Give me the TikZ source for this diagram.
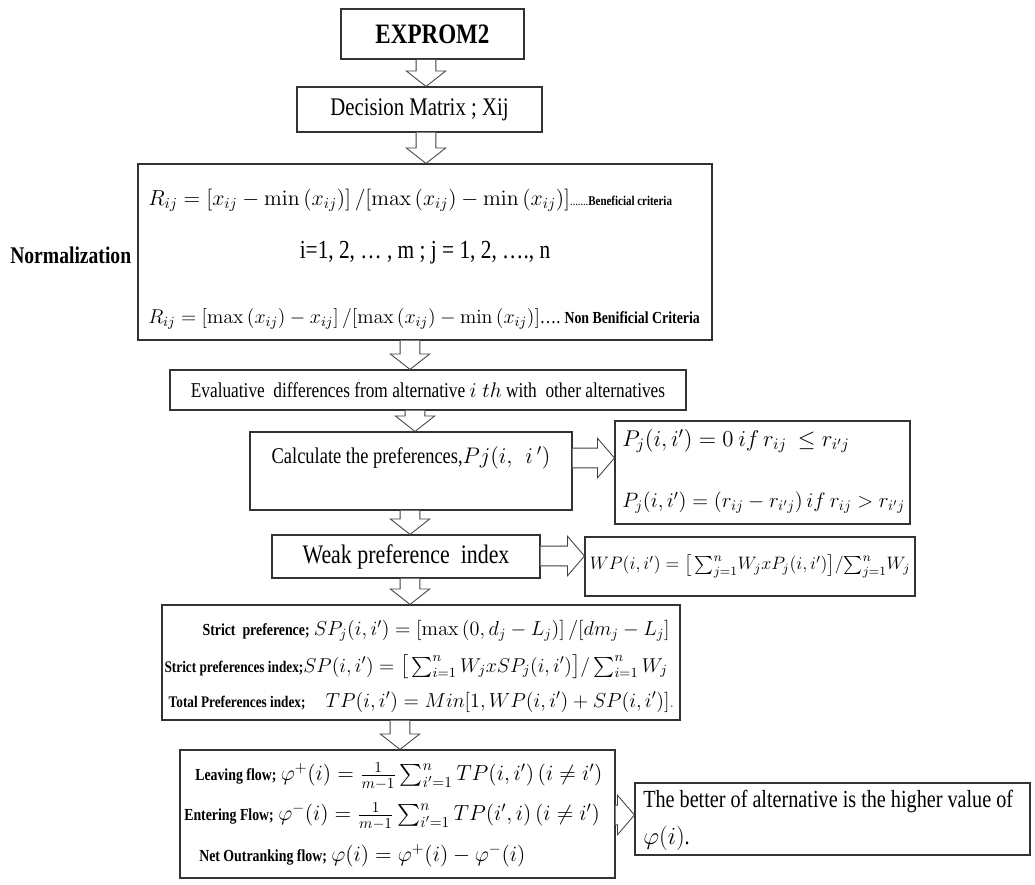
\documentclass[tikz,border=0pt]{standalone}
\usepackage{fix-cm}
\usepackage{amsmath,amssymb}
\usepackage[no-math]{fontspec}
\setmainfont{Liberation Serif}[FakeStretch=0.82]
\usetikzlibrary{calc}
\newcommand{\fsize}[1]{\fontsize{#1}{#1}\selectfont}
% hollow block arrows between boxes
\newcommand{\blockdown}[3]{\draw[blockarrow] let \p1=(#1,0 |- #2.south), \p2=(#1,0 |- #3.north) in
    (\x1-7pt,\y1) -- (\x1-7pt,\y2+11pt) -- (\x1-14pt,\y2+11pt) -- (\x1,\y2)
    -- (\x1+14pt,\y2+11pt) -- (\x1+7pt,\y2+11pt) -- (\x1+7pt,\y1);}
\newcommand{\blockright}[3]{\draw[blockarrow] let \p1=(#2.east |- 0,#1), \p2=(#3.west |- 0,#1) in
    (\x1,\y1+7pt) -- (\x2-12pt,\y1+7pt) -- (\x2-12pt,\y1+14pt) -- (\x2,\y1)
    -- (\x2-12pt,\y1-14pt) -- (\x2-12pt,\y1-7pt) -- (\x1,\y1-7pt);}

\begin{document}
\begin{tikzpicture}[x=0.025cm, y=-0.025cm,
    box/.style={draw=black!80, line width=0.8pt, inner sep=0pt},
    blockarrow/.style={draw=black!75, fill=white, line width=0.6pt},
    line/.style={inner sep=0pt, font=\fsize{15.5}}]
    \def\px{0.025cm}
    \useasboundingbox (0,0) rectangle (1035,884);

    % Draw boxes
    \node[box, line width=1.4pt, minimum width=183*\px, minimum height=50*\px] (exprom) at (432.5,34) {};
    \node[box, minimum width=245*\px, minimum height=45*\px] (dm) at (419.5,109.5) {};
    \node[box, minimum width=574*\px, minimum height=176*\px] (norm) at (425,252) {};
    \node[box, minimum width=516*\px, minimum height=40*\px] (eval) at (428,390) {};
    \node[box, minimum width=322*\px, minimum height=78*\px] (calc) at (411,471) {};
    \node[box, minimum width=295*\px, minimum height=103*\px] (pj) at (762.5,472.5) {};
    \node[box, minimum width=268*\px, minimum height=43*\px] (weak) at (406,556.5) {};
    \node[box, minimum width=330*\px, minimum height=59*\px] (wp) at (750,566.5) {};
    \node[box, minimum width=518*\px, minimum height=115*\px] (strict) at (421,662.5) {};
    \node[box, minimum width=435*\px, minimum height=128*\px] (flow) at (397.5,814) {};
    \node[box, minimum width=395*\px, minimum height=72*\px] (final) at (832.5,819) {};

    % Draw arrows
    \blockdown{426}{exprom}{dm}
    \blockdown{426}{dm}{norm}
    \blockdown{410}{norm}{eval}
    \blockdown{415}{eval}{calc}
    \blockdown{410}{calc}{weak}
    \blockdown{410}{weak}{strict}
    \blockdown{400}{strict}{flow}
    \blockright{458}{calc}{pj}
    \blockright{556}{weak}{wp}
    \blockright{815}{flow}{final}

    % Texts
    \node[font=\fsize{20}\bfseries] (exprom-t) at (exprom) {EXPROM2};
    \node[font=\fsize{18}] (dm-t) at (dm) {Decision Matrix ; Xij};
    \node[font=\fsize{17}\bfseries, anchor=west, inner sep=0pt] (norm-l) at (10,255) {Normalization};

    \node[line, anchor=west] (norm-a) at (148,200)
        {$R_{ij} = \left[x_{ij} - \min\left(x_{ij}\right)\right]/[\max\left(x_{ij}\right) - \min\left(x_{ij}\right)]$\fsize{9}.......\fsize{9.5}\bfseries Beneficial criteria};
    \node[font=\fsize{18.5}] (norm-b) at (425,253) {i=1, 2, \dots\ , m ; j = 1, 2, \dots., n};
    \node[line, anchor=west, font=\fsize{14.2}] (norm-c) at (148,319)
        {$R_{ij} = \left[\max\left(x_{ij}\right) - x_{ij}\right]/[\max\left(x_{ij}\right) - \min\left(x_{ij}\right)]$\dots.\ {\fsize{12}\bfseries Non Benificial Criteria}};

    \node[font=\fsize{15}] (eval-t) at (eval) {Evaluative\ \ differences from alternative $i\;th$ with\ \ other alternatives};
    \node[font=\fsize{16}] (calc-t) at (411,458) {Calculate the preferences,$Pj(i,\ \ i\,')$};
    \node[line, anchor=west, font=\fsize{16.2}] (pj-a) at (622,441) {$P_j(i,i') = 0\ if\, r_{ij}\ \le r_{i'j}$};
    \node[line, anchor=west, font=\fsize{14.8}] (pj-b) at (622,503) {$P_j(i,i') = \left(r_{ij} - r_{i'j}\right) if\ r_{ij} > r_{i'j}$};
    \node[font=\fsize{19}] (weak-t) at (weak) {Weak preference\ \ index};
    \node[line, font=\fsize{12.8}] (wp-t) at (750,566) {$WP(i,i')=\big[\sum_{j=1}^{n}\!W_j x P_j(i,i')\big]/\!\sum_{j=1}^{n}\!W_j$};

    \node[line, anchor=east, font=\fsize{14.4}] (strict-a) at (670,631)
        {{\fsize{12}\bfseries Strict\ \ preference;} $SP_j(i,i') = \left[\max\left(0,d_j - L_j\right)\right]/[dm_j - L_j]$};
    \node[line, anchor=east, font=\fsize{14.2}] (strict-b) at (668,667)
        {{\fsize{11.5}\bfseries Strict preferences index;}$SP(i,i') = \big[\sum_{i=1}^{n} W_j x SP_j(i,i')\big]/\sum_{i=1}^{n} W_j$};
    \node[line, anchor=east, font=\fsize{14.4}] (strict-c) at (674,702)
        {{\fsize{11.5}\bfseries Total Preferences index;}\quad $TP(i,i') = Min[1,WP(i,i') + SP(i,i')]$\textcolor{black!40}{.}};

    \node[line, anchor=west] (flow-a) at (195,776)
        {{\fsize{12}\bfseries Leaving flow;} $\varphi^{+}(i) = \frac{1}{m-1}\sum_{i'=1}^{n} TP(i,i')\,(i \neq i')$};
    \node[line, anchor=west] (flow-b) at (184,816)
        {{\fsize{12}\bfseries Entering Flow;} $\varphi^{-}(i) = \frac{1}{m-1}\sum_{i'=1}^{n} TP(i',i)\,(i \neq i')$};
    \node[line, anchor=west] (flow-c) at (199,856)
        {{\fsize{12}\bfseries Net Outranking flow;} $\varphi(i) = \varphi^{+}(i) - \varphi^{-}(i)$};

    \node[anchor=west, inner sep=0pt, font=\fsize{17.5}] (final-a) at (643,801) {The better of alternative is the higher value of};
    \node[anchor=west, inner sep=0pt, font=\fsize{17.5}] (final-b) at (643,838) {$\varphi(i)$.};
\end{tikzpicture}
\end{document}
